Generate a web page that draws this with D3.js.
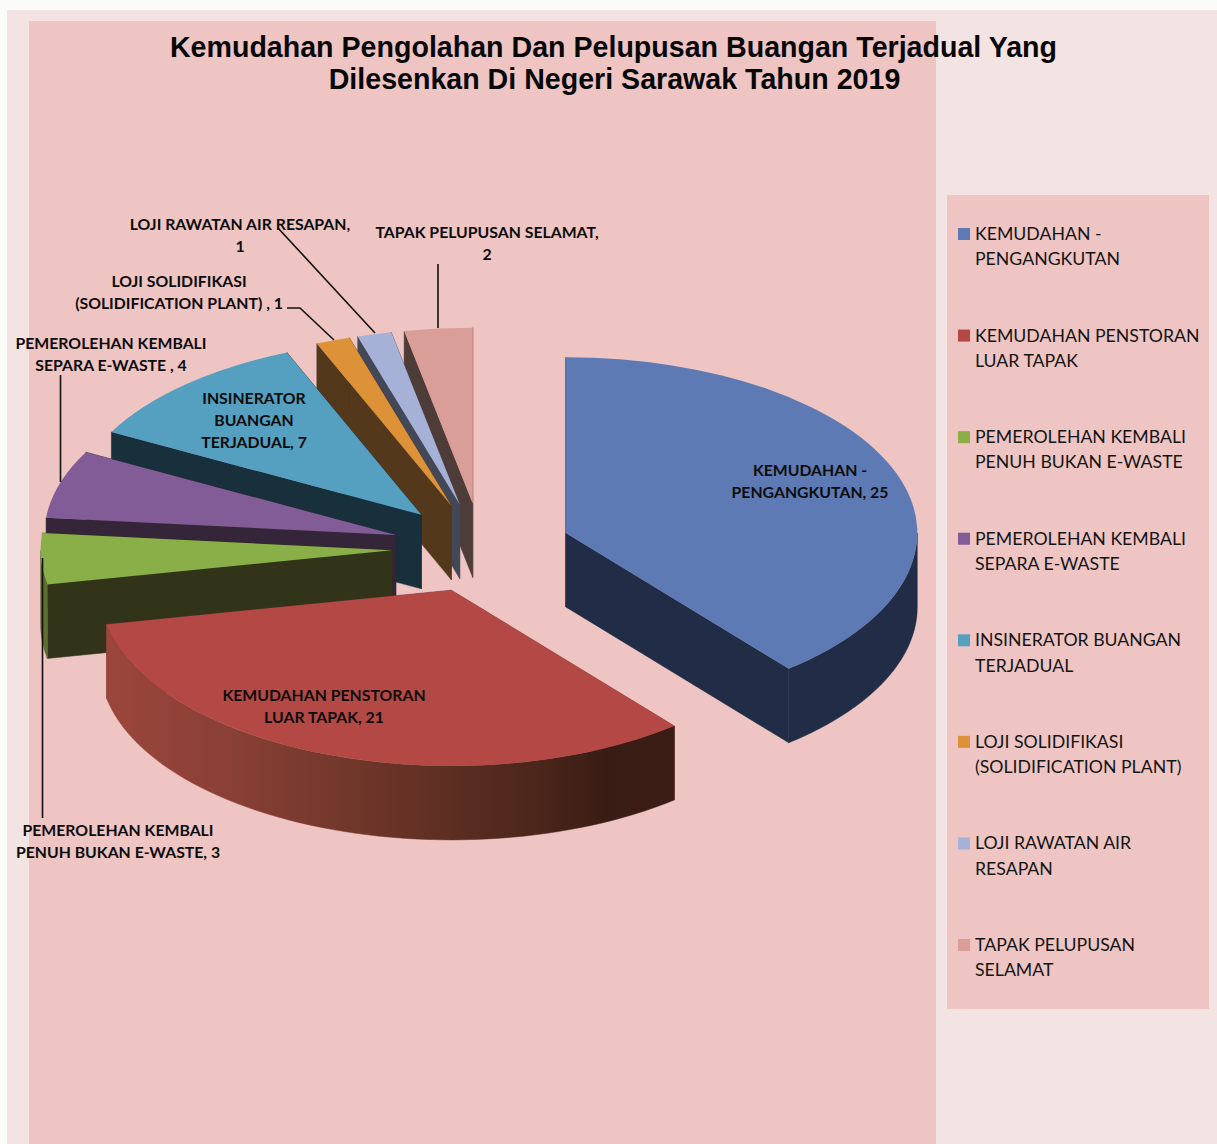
<!DOCTYPE html>
<html><head><meta charset="utf-8">
<script src="https://cdn.jsdelivr.net/npm/d3@7/dist/d3.min.js"></script>
<style>html,body{margin:0;padding:0;background:#fbfcf9;overflow:hidden}svg{display:block}</style>
</head><body><div id="c"></div>
<script>
// ---- data ----
const categories = ["KEMUDAHAN - PENGANGKUTAN","KEMUDAHAN PENSTORAN LUAR TAPAK","PEMEROLEHAN KEMBALI PENUH BUKAN E-WASTE","PEMEROLEHAN KEMBALI SEPARA E-WASTE","INSINERATOR BUANGAN TERJADUAL","LOJI SOLIDIFIKASI (SOLIDIFICATION PLANT)","LOJI RAWATAN AIR RESAPAN","TAPAK PELUPUSAN SELAMAT"];
const values = [25,21,3,4,7,1,1,2];
const titleLines = ["Kemudahan Pengolahan Dan Pelupusan Buangan Terjadual Yang","Dilesenkan Di Negeri Sarawak Tahun 2019"];
const legendLines = [["KEMUDAHAN -","PENGANGKUTAN"],["KEMUDAHAN PENSTORAN","LUAR TAPAK"],["PEMEROLEHAN KEMBALI","PENUH BUKAN E-WASTE"],["PEMEROLEHAN KEMBALI","SEPARA E-WASTE"],["INSINERATOR BUANGAN","TERJADUAL"],["LOJI SOLIDIFIKASI","(SOLIDIFICATION PLANT)"],["LOJI RAWATAN AIR","RESAPAN"],["TAPAK PELUPUSAN","SELAMAT"]];
const labelLines = [["KEMUDAHAN -","PENGANGKUTAN, 25"],["KEMUDAHAN PENSTORAN","LUAR TAPAK, 21"],["PEMEROLEHAN KEMBALI","PENUH BUKAN E-WASTE, 3"],["PEMEROLEHAN KEMBALI","SEPARA E-WASTE , 4"],["INSINERATOR","BUANGAN","TERJADUAL, 7"],["LOJI SOLIDIFIKASI","(SOLIDIFICATION PLANT) , 1"],["LOJI RAWATAN AIR RESAPAN,","1"],["TAPAK PELUPUSAN SELAMAT,","2"]];

// ---- styles / layout ----
const topColors  = ["#5d7ab4","#b34844","#8aaf48","#825c96","#559fc0","#de9238","#a5b1d6","#da9e99"];
const sideColors = ["#212c46","#7a382f","#323419","#342638","#182f3c","#53381c","#424858","#4e3c38"];
const wallColors = ["#212c46","url(#redWall)","#5f6f30","#342638","#182f3c","#53381c","#424858","#4e3c38"];
const labelPos = [[810,472],[324,697],[118,832],[111,345],[254,400],[179,283],[240,226],[487,234]];
const leaders = [null,null,[[42.5,558],[42.5,818]],[[60.5,375],[60.5,482]],null,[[287,308],[300,308],[334,340]],[[278,228],[375,333]],[[438,264],[438,328]]];
const paintOrder = [7,6,5,4,3,2,1,0];
const cx = 481.5, cy = 548, R = 351.5, squash = 0.5, explode = 89.5, depth = 74;
const labelFont = "Lato, 'Open Sans', sans-serif";

const W = 1217, H = 1144;
const svg = d3.select("#c").append("svg").attr("width",W).attr("height",H);
const defs = svg.append("defs");
const rg = defs.append("linearGradient").attr("id","redWall").attr("gradientUnits","userSpaceOnUse")
  .attr("x1",107).attr("x2",676).attr("y1",0).attr("y2",0);
[[0,"#9b463d"],[.2,"#8b4035"],[.4,"#74382c"],[.6,"#5d2e22"],[.75,"#4c261b"],[.88,"#391c14"],[1,"#3b1d15"]]
  .forEach(([o,c])=>rg.append("stop").attr("offset",o).attr("stop-color",c));

// backgrounds
svg.append("rect").attr("x",7).attr("y",10).attr("width",W-7).attr("height",H-10).attr("fill","#f3e3e3");
svg.append("rect").attr("x",29).attr("y",21).attr("width",907).attr("height",H-21).attr("fill","#eec5c3");
svg.append("rect").attr("x",947).attr("y",195).attr("width",262).attr("height",814).attr("fill","#eec5c3");

// pie
const pie = d3.pie().sort(null).startAngle(0).endAngle(2*Math.PI).value(d=>d);
const arcs = pie(values);
const arc = d3.arc().innerRadius(0).outerRadius(R);
const proj = (a,r,z,o)=>{const [x,y]=d3.pointRadial(a,r);return [o[0]+x,o[1]+y*squash+z];};
const line = d3.line();
const g = svg.append("g");

paintOrder.forEach(i=>{
  const s = arcs[i];
  const mid = (s.startAngle+s.endAngle)/2;
  const off = d3.pointRadial(mid,explode);
  const o = [cx+off[0], cy+off[1]*squash];
  const sg = g.append("g");
  [s.startAngle,s.endAngle].forEach(a=>{
    sg.append("path").attr("fill",sideColors[i]).attr("stroke",sideColors[i]).attr("stroke-width",.5)
      .attr("d",line([proj(a,0,0,o),proj(a,R,0,o),proj(a,R,depth,o),proj(a,0,depth,o)])+"Z");
  });
  const a0 = Math.max(s.startAngle,Math.PI/2), a1 = Math.min(s.endAngle,1.5*Math.PI);
  if(a1>a0){
    const t = d3.scaleLinear().domain([0,60]).range([a0,a1]);
    const steps = d3.range(61).map(t);
    const pts = steps.map(a=>proj(a,R,0,o)).concat(steps.slice().reverse().map(a=>proj(a,R,depth,o)));
    sg.append("path").attr("fill",wallColors[i]).attr("stroke",wallColors[i]).attr("stroke-width",.5).attr("d",line(pts)+"Z");
  }
  sg.append("path").attr("fill",topColors[i])
    .attr("transform",`translate(${o[0]},${o[1]}) scale(1,${squash})`)
    .attr("d",arc(s));
});

// leader lines
leaders.forEach(l=>{ if(l) svg.append("path").attr("d",line(l)).attr("fill","none").attr("stroke","#111").attr("stroke-width",1.6); });

// data labels
labelLines.forEach((lines,i)=>{
  lines.forEach((t,j)=>{
    svg.append("text").attr("x",labelPos[i][0]).attr("y",labelPos[i][1]+j*22.2)
      .attr("text-anchor","middle").attr("dominant-baseline","middle")
      .attr("font-family",labelFont).attr("font-weight",700).attr("font-size",15.8).attr("fill","#0c0c0c").text(t);
  });
});

// title
titleLines.forEach((t,j)=>{
  svg.append("text").attr("x",j?614.5:613.5).attr("y",49+j*32).attr("text-anchor","middle").attr("dominant-baseline","middle")
    .attr("font-family","'Liberation Sans',Arial,sans-serif").attr("font-weight",700).attr("font-size",28.6).attr("fill","#080808").text(t);
});

// legend
const ly = d3.scaleLinear().domain([0,7]).range([234,945]);
categories.forEach((c,i)=>{
  svg.append("rect").attr("x",958).attr("y",ly(i)-6).attr("width",12).attr("height",12).attr("fill",topColors[i]);
  legendLines[i].forEach((t,j)=>{
    svg.append("text").attr("x",975).attr("y",ly(i)+1.5+j*25.3).attr("dominant-baseline","middle")
      .attr("font-family",labelFont).attr("font-size",17.7).attr("fill","#141414").text(t);
  });
});
</script></body></html>
